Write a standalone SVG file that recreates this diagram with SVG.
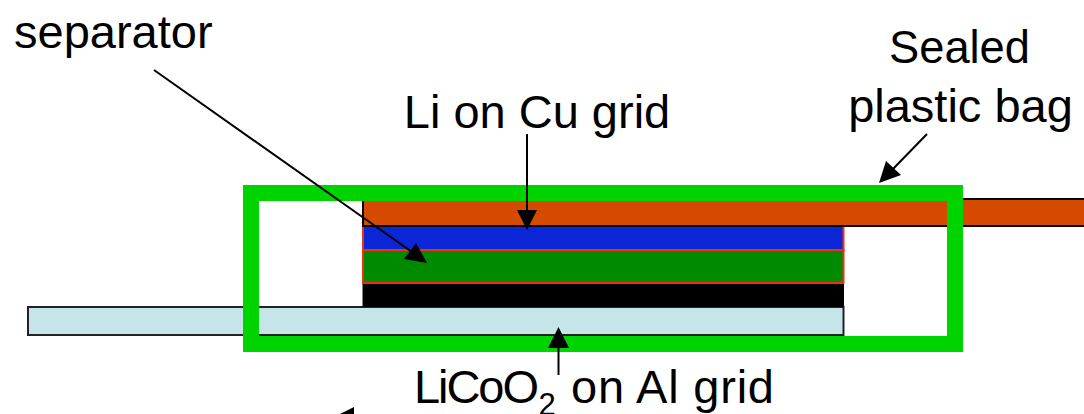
<svg xmlns="http://www.w3.org/2000/svg" width="1084" height="414" viewBox="0 0 1084 414">
<defs>
<style>
text{font-family:"Liberation Sans",Arial,sans-serif;font-size:47px;fill:#000}
.sub{font-size:31px}
.conn{stroke:#000;stroke-width:2;fill:none}
.head{fill:#000;stroke:none}
</style>
</defs>
<rect width="1084" height="414" fill="#fff"/>
<g id="al-grid"><rect x="28" y="307" width="815.500" height="28" fill="#c6e5e8" stroke="#222" stroke-width="2"/></g>
<g id="licoo2-layer"><rect x="362.500" y="283" width="481.500" height="24" fill="#000"/></g>
<g id="separator-layer"><rect x="363" y="250" width="480.500" height="33" fill="#008a00" stroke="#f03010" stroke-width="2"/></g>
<g id="li-layer"><rect x="363" y="226" width="480.500" height="24" fill="#0a26d6" stroke="#f03010" stroke-width="2"/></g>
<g id="cu-grid"><rect x="363" y="199" width="723" height="27" fill="#d64a00" stroke="#000" stroke-width="2"/></g>
<g id="bag"><rect x="251" y="193" width="704" height="151" fill="none" stroke="#00d400" stroke-width="16"/></g>
<g id="connectors">
<line class="conn" x1="154" y1="70" x2="412" y2="252"/><polygon class="head" points="427,263 404,259 416,243"/>
<line class="conn" x1="527" y1="134" x2="527" y2="215"/><polygon class="head" points="527,230 517,210 537,210"/>
<line class="conn" x1="927" y1="134" x2="892" y2="170"/><polygon class="head" points="879,183 886,161 901,175"/>
<line class="conn" x1="558.500" y1="375" x2="558.500" y2="340"/><polygon class="head" points="558.500,327 548,348 569,348"/>
<polygon class="head" points="354,407 340,414 354,414"/>
</g>
<g id="labels">
<text id="t-separator" x="14" y="48">separator</text>
<text id="t-sealed" x="889" y="63" textLength="141" lengthAdjust="spacingAndGlyphs">Sealed</text>
<text id="t-plastic" x="960.500" y="122" text-anchor="middle">plastic bag</text>
<text id="t-li" x="537" y="128" text-anchor="middle">Li on Cu grid</text>
<text id="t-licoo2" x="414" y="403"><tspan textLength="125">LiCoO</tspan><tspan class="sub" x="538.500" y="415">2</tspan><tspan x="571" y="403" textLength="203">on Al grid</tspan></text>
</g>
</svg>
